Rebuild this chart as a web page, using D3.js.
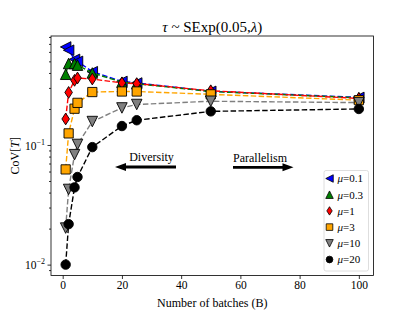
<!DOCTYPE html>
<html>
<head>
<meta charset="utf-8">
<script src="https://cdn.jsdelivr.net/npm/d3@7"></script>
<style>
  body { margin: 0; background: #fff; }
  svg text { font-family: "Liberation Serif", "DejaVu Serif", serif; fill: #000; }
</style>
</head>
<body>
<div id="container"></div>
<script>
"use strict";

// number of batches on the x axis
var batches = [1, 2, 4, 5, 10, 20, 25, 50, 100];

// CoV[T], one array per mu
var mu01 = [0.66, 0.62, 0.52, 0.50, 0.41, 0.34, 0.33, 0.281, 0.25];
var mu03 = [0.39, 0.48, 0.48, 0.465, 0.40, 0.335, 0.325, 0.28, 0.248];
var mu1 = [0.165, 0.275, 0.347, 0.363, 0.356, 0.33, 0.326, 0.284, 0.245];
var mu3 = [0.0625, 0.125, 0.201, 0.225, 0.277, 0.28, 0.28, 0.265, 0.237];
var mu10 = [0.0202, 0.0425, 0.083, 0.101, 0.157, 0.204, 0.218, 0.232, 0.226];
var mu20 = [0.010, 0.0218, 0.0442, 0.054, 0.096, 0.144, 0.161, 0.191, 0.200];

var seriesLabels = ["0.1", "0.3", "1", "3", "10", "20"];
var xTicks = [0, 20, 40, 60, 80, 100];
var yTicks = [0.01, 0.1];

var series = [
    { label: seriesLabels[0], values: mu01, color: "#0000ff", marker: "tri-left" },
    { label: seriesLabels[1], values: mu03, color: "#008000", marker: "tri-up" },
    { label: seriesLabels[2], values: mu1, color: "#ff0000", marker: "thin-diamond" },
    { label: seriesLabels[3], values: mu3, color: "#ffa500", marker: "square" },
    { label: seriesLabels[4], values: mu10, color: "#808080", marker: "tri-down" },
    { label: seriesLabels[5], values: mu20, color: "#000000", marker: "circle" }
];

var W = 415, H = 311;
var plot = { left: 51, right: 373.5, top: 36, bottom: 275.5 };

var x = d3.scaleLinear().domain([-3.95, 104.95]).range([plot.left, plot.right]);
var y = d3.scaleLog().domain([Math.pow(10, -2.091), Math.pow(10, -0.089)]).range([plot.bottom, plot.top]);

function markerPath(type, s) {
    var h = s / 2;
    switch (type) {
        case "tri-left": return "M" + (-h) + ",0L" + h + "," + (-h) + "L" + h + "," + h + "Z";
        case "tri-up": return "M0," + (-h) + "L" + h + "," + h + "L" + (-h) + "," + h + "Z";
        case "tri-down": return "M0," + h + "L" + h + "," + (-h) + "L" + (-h) + "," + (-h) + "Z";
        case "square": var q = s * 0.44; return "M" + (-q) + "," + (-q) + "H" + q + "V" + q + "H" + (-q) + "Z";
        case "thin-diamond": var dx = s * 0.36, dy = s * 0.56;
            return "M0," + (-dy) + "L" + dx + ",0L0," + dy + "L" + (-dx) + ",0Z";
        default: var r = s * 0.45;
            return "M" + r + ",0A" + r + "," + r + " 0 1,1 " + (-r) + ",0A" + r + "," + r + " 0 1,1 " + r + ",0Z";
    }
}

var svg = d3.select("#container").append("svg")
    .attr("width", W)
    .attr("height", H);

svg.append("rect").attr("width", W).attr("height", H).attr("fill", "#fff");

// axes
var xAxis = svg.append("g")
    .attr("transform", "translate(0," + plot.bottom + ")")
    .call(d3.axisBottom(x).tickValues(xTicks).tickSize(3.5).tickPadding(2).tickFormat(d3.format("d")));

var minorTicks = [];
[0.001, 0.01, 0.1].forEach(function(dec) {
    for (var k = 2; k <= 9; k++) {
        var v = dec * k;
        if (v >= y.domain()[0] && v <= y.domain()[1]) minorTicks.push(v);
    }
});

svg.append("g")
    .attr("transform", "translate(" + plot.left + ",0)")
    .call(d3.axisLeft(y).tickValues(minorTicks).tickSize(2).tickFormat(""));

var yAxis = svg.append("g")
    .attr("transform", "translate(" + plot.left + ",0)")
    .call(d3.axisLeft(y).tickValues(yTicks).tickSize(3.5).tickPadding(3).tickFormat(""));

svg.selectAll(".domain").remove();
svg.selectAll(".tick line").attr("stroke", "#000").attr("stroke-width", 0.8);

xAxis.selectAll(".tick text")
    .style("font-family", "Liberation Serif")
    .style("font-size", "11.5px");

yAxis.selectAll(".tick").each(function(d) {
    var t = d3.select(this).append("text")
        .attr("x", -6)
        .attr("dy", "0.35em")
        .attr("text-anchor", "end")
        .style("font-size", "11.5px");
    t.append("tspan").text("10");
    t.append("tspan").attr("dy", -5).style("font-size", "8px").text("\u2212" + Math.round(-Math.log10(d)));
});

// series: line then markers, in drawing order
series.forEach(function(s) {
    var g = svg.append("g");
    g.append("path")
        .datum(s.values)
        .attr("fill", "none")
        .attr("stroke", s.color)
        .attr("stroke-width", 1.4)
        .attr("stroke-dasharray", "5.5,2.4")
        .attr("d", d3.line()
            .x(function(d, i) { return x(batches[i]); })
            .y(function(d) { return y(d); }));

    g.selectAll(".mk")
        .data(s.values)
        .enter().append("path")
            .attr("class", "mk")
            .attr("transform", function(d, i) {
                return "translate(" + x(batches[i]) + "," + y(d) + ")";
            })
            .attr("d", markerPath(s.marker, 10.5))
            .attr("fill", s.color)
            .attr("stroke", "#000")
            .attr("stroke-width", 0.9);
});

// frame
svg.append("rect")
    .attr("x", plot.left).attr("y", plot.top)
    .attr("width", plot.right - plot.left).attr("height", plot.bottom - plot.top)
    .attr("fill", "none").attr("stroke", "#000").attr("stroke-width", 0.8);

// title
var title = svg.append("text")
    .attr("x", (plot.left + plot.right) / 2)
    .attr("y", 32)
    .attr("text-anchor", "middle")
    .style("font-size", "15px");
title.append("tspan").style("font-style", "italic").text("\u03c4");
title.append("tspan").text(" ~ SExp(0.05,");
title.append("tspan").style("font-style", "italic").text("\u03bb");
title.append("tspan").text(")");

// axis labels
svg.append("text")
    .attr("x", (plot.left + plot.right) / 2)
    .attr("y", 306.5)
    .attr("text-anchor", "middle")
    .style("font-size", "12px")
    .text("Number of batches (B)");

var yl = svg.append("text")
    .attr("transform", "translate(19," + ((plot.top + plot.bottom) / 2) + ") rotate(-90)")
    .attr("text-anchor", "middle")
    .style("font-size", "12px");
yl.append("tspan").text("CoV[");
yl.append("tspan").style("font-style", "italic").text("T");
yl.append("tspan").text("]");

// annotations with arrows
function arrow(x0, x1, yy) {
    var dir = x1 > x0 ? 1 : -1;
    var headLen = 11, headHalf = 4, shaft = 1.4;
    var xb = x1 - dir * headLen;
    svg.append("path")
        .attr("d", "M" + x0 + "," + (yy - shaft) + "L" + xb + "," + (yy - shaft) +
            "L" + xb + "," + (yy - headHalf) + "L" + x1 + "," + yy +
            "L" + xb + "," + (yy + headHalf) + "L" + xb + "," + (yy + shaft) +
            "L" + x0 + "," + (yy + shaft) + "Z")
        .attr("fill", "#000");
}

svg.append("text").attr("x", 151.5).attr("y", 161).attr("text-anchor", "middle")
    .style("font-size", "12px").text("Diversity");
arrow(176, 115, 167);

svg.append("text").attr("x", 260).attr("y", 161.5).attr("text-anchor", "middle")
    .style("font-size", "12px").text("Parallelism");
arrow(233, 293.5, 167.3);

// legend
var legend = svg.append("g").attr("transform", "translate(324,170.5)");
legend.append("rect")
    .attr("width", 44.5).attr("height", 100.5)
    .attr("rx", 2).attr("ry", 2)
    .attr("fill", "#fff").attr("fill-opacity", 0.8)
    .attr("stroke", "#d6d6d6").attr("stroke-width", 0.8);

series.forEach(function(s, i) {
    var row = legend.append("g").attr("transform", "translate(0," + (8 + i * 16.2) + ")");
    row.append("path")
        .attr("transform", "translate(5.5,0)")
        .attr("d", markerPath(s.marker, 7.5))
        .attr("fill", s.color)
        .attr("stroke", "#000")
        .attr("stroke-width", 0.8);
    var t = row.append("text")
        .attr("x", 13.5)
        .attr("dy", "0.35em")
        .style("font-size", "11px");
    t.append("tspan").style("font-style", "italic").text("\u03bc");
    t.append("tspan").text("=" + s.label);
});
</script>
</body>
</html>
